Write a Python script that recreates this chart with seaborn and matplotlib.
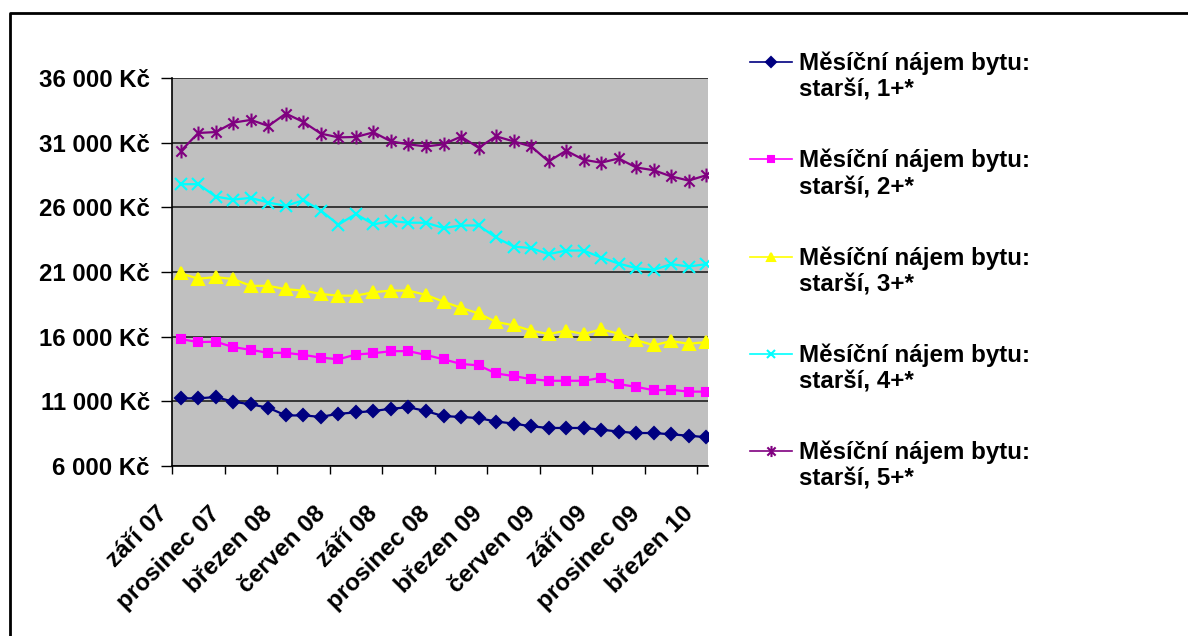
import numpy as np
import pandas as pd
import matplotlib
matplotlib.use("Agg")
import matplotlib.pyplot as plt
import seaborn as sns
from matplotlib.path import Path
from matplotlib.legend_handler import HandlerLine2D

# monthly categories, září 2007 .. březen 2010 (31 months)
months = pd.date_range("2007-09-01", periods=31, freq="MS")
tick_labels = ["září 07", "prosinec 07", "březen 08", "červen 08", "září 08",
               "prosinec 08", "březen 09", "červen 09", "září 09", "prosinec 09",
               "březen 10"]

series_names = ["Měsíční nájem bytu:\nstarší, 1+*",
                "Měsíční nájem bytu:\nstarší, 2+*",
                "Měsíční nájem bytu:\nstarší, 3+*",
                "Měsíční nájem bytu:\nstarší, 4+*",
                "Měsíční nájem bytu:\nstarší, 5+*"]

rent_1 = [11230, 11230, 11330, 10970, 10770, 10500, 9910, 9910, 9800, 10040,
          10140, 10250, 10430, 10540, 10250, 9850, 9800, 9700, 9440, 9280,
          9070, 8940, 8940, 8940, 8810, 8660, 8550, 8550, 8450, 8340, 8230]
rent_2 = [15810, 15580, 15610, 15190, 14980, 14750, 14750, 14590, 14380, 14250,
          14620, 14720, 14880, 14880, 14590, 14250, 13890, 13780, 13160, 12950,
          12720, 12590, 12590, 12590, 12820, 12330, 12120, 11860, 11890, 11750, 11750]
rent_3 = [20900, 20480, 20610, 20450, 19930, 19930, 19670, 19560, 19300, 19170,
          19170, 19440, 19560, 19560, 19230, 18700, 18230, 17800, 17140, 16880,
          16470, 16200, 16470, 16200, 16570, 16230, 15730, 15340, 15660, 15450, 15580]
rent_4 = [27790, 27790, 26830, 26600, 26730, 26370, 26110, 26550, 25750, 24660,
          25490, 24680, 24940, 24810, 24810, 24400, 24600, 24600, 23670, 22970,
          22850, 22380, 22660, 22660, 22120, 21650, 21300, 21160, 21610, 21420, 21610]
rent_5 = [30350, 31750, 31820, 32550, 32760, 32290, 33250, 32600, 31700, 31410,
          31440, 31800, 31100, 30870, 30710, 30870, 31470, 30610, 31490, 31100,
          30710, 29550, 30380, 29680, 29450, 29780, 29080, 28870, 28390, 28070, 28480]

# Excel-like asterisk: an x plus a vertical bar
star = Path([(-1, -1), (1, 1), (-1, 1), (1, -1), (0, -1.35), (0, 1.35)],
            [Path.MOVETO, Path.LINETO, Path.MOVETO, Path.LINETO, Path.MOVETO, Path.LINETO])

colors = ["#000080", "#FF00FF", "#FFFF00", "#00FFFF", "#800080"]
markers = ["D", "s", "^", "x", star]
msizes = [6, 6, 8, 8, 10]

plt.rcParams["font.family"] = ["Liberation Sans", "DejaVu Sans"]
plt.rcParams["font.weight"] = "bold"

fig = plt.figure(figsize=(11.88, 6.36), dpi=100)
ax = fig.add_axes([172 / 1188, 1 - 466 / 636, 536 / 1188, 388 / 636])
ax.set_facecolor("#C0C0C0")

pos = np.arange(len(months))
all_rents = [rent_1, rent_2, rent_3, rent_4, rent_5]
lines = []
for vals, c, m, ms in zip(all_rents, colors, markers, msizes):
    sns.lineplot(x=pos, y=vals, ax=ax, color=c, marker=m, markersize=ms,
                 markeredgecolor=c, markerfacecolor=c, markeredgewidth=1.5,
                 linewidth=1.6, legend=False)
    lines.append(ax.lines[-1])

ax.set_xlim(-0.5, 30.1)
ax.set_ylim(6000, 36000)
ax.set_yticks(np.arange(6000, 36001, 5000))
ax.set_yticklabels([f"{v:,} Kč".replace(",", " ") for v in range(6000, 36001, 5000)],
                   fontsize=17.3, fontweight="bold")
ax.yaxis.grid(True, color="#202020", linewidth=1.2)
ax.set_axisbelow(True)

ax.set_xticks(np.arange(-0.5, 30, 3))
ax.set_xticklabels(tick_labels, rotation=45, ha="right", va="top",
                   fontsize=17.5, fontweight="bold")
ax.tick_params(axis="x", length=6, width=1, pad=20)
ax.tick_params(axis="y", length=8, width=1, pad=8)
ax.set_xlabel("")
ax.set_ylabel("")

for s in ["top", "right"]:
    ax.spines[s].set_visible(False)
for s in ["left", "bottom"]:
    ax.spines[s].set_color("black")
    ax.spines[s].set_linewidth(1.2)


class RaisedLine(HandlerLine2D):
    # put the legend key next to the first line of the two-line label
    def create_artists(self, legend, orig_handle, xdescent, ydescent,
                       width, height, fontsize, trans):
        arts = super().create_artists(legend, orig_handle, xdescent, ydescent,
                                      width, height, fontsize, trans)
        for a in arts:
            a.set_ydata(np.asarray(a.get_ydata()) + 11)
        return arts


leg = fig.legend(lines, series_names, loc="upper left",
                 bbox_to_anchor=(728 / 1188, 1 - 30 / 636),
                 frameon=False, fontsize=17.4, labelspacing=1.95,
                 handlelength=1.75, handletextpad=0.3,
                 handler_map={l: RaisedLine() for l in lines})
for h in leg.legend_handles:
    h.set_linewidth(1.2)
    h.set_markersize(h.get_markersize() * 0.8)
for t in leg.get_texts():
    t.set_fontweight("bold")

# outer chart border (left and top edges visible)
fig.add_artist(plt.Line2D([10 / 1188, 10 / 1188, 1.0], [0.0, 1 - 13 / 636, 1 - 13 / 636],
                          transform=fig.transFigure, color="black", linewidth=2))

fig.savefig("out.png", dpi=100)
